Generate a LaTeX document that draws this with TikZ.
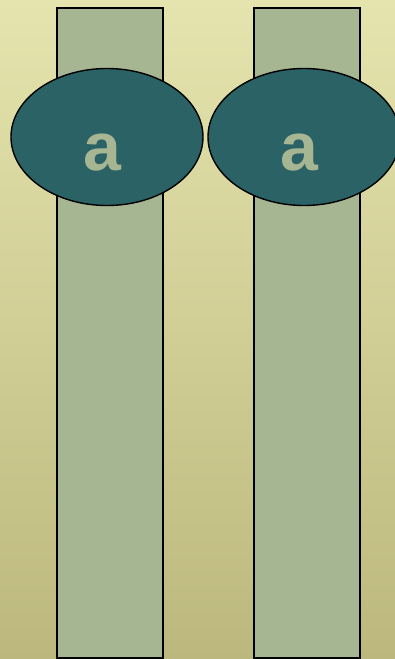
\documentclass[tikz,border=0pt]{standalone}
\usepackage{fontspec}
\newfontfamily\lettfont{Liberation Sans}
\usetikzlibrary{shapes.geometric}
\definecolor{bgtop}{HTML}{E5E4AE}
\definecolor{bgbot}{HTML}{BCB87D}
\definecolor{barfill}{HTML}{A6B592}
\definecolor{blobfill}{HTML}{2A6266}
\tikzset{
  bar/.style={draw=black, line width=1.4pt, fill=barfill},
  blob/.style={ellipse, draw=black, line width=1.4pt, fill=blobfill,
    minimum width=192pt, minimum height=137pt, inner sep=0pt},
  letter/.style={text=barfill, font=\fontsize{68}{68}\lettfont\bfseries, inner sep=0pt}
}
\begin{document}
\begin{tikzpicture}[x=1pt,y=-1pt]
\useasboundingbox[top color=bgtop, bottom color=bgbot] (0,0) rectangle (395,659);
\foreach \i/\x in {1/57,2/254} {
    \draw[bar] (\x,8) rectangle ++(106,650);
}
\foreach \i/\x in {1/107,2/304} {
    \node[blob] (e\i) at (\x,137) {};
    \node[letter] (t\i) at (\x-5,153) {a};
}
\end{tikzpicture}
\end{document}
